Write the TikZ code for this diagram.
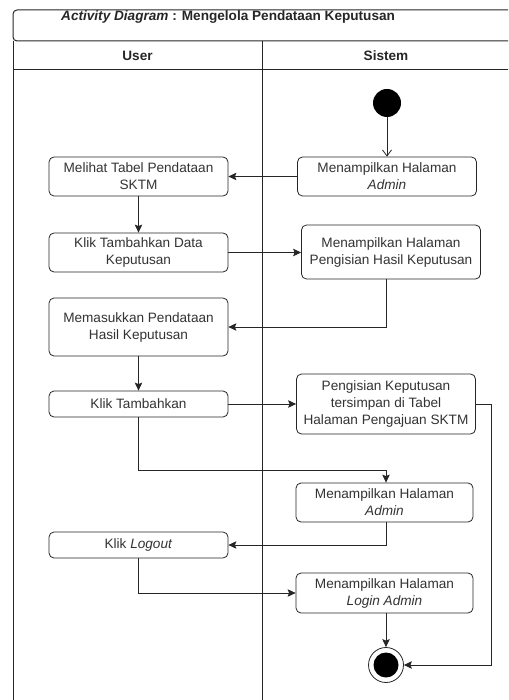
\documentclass[tikz,border=0pt]{standalone}
\usepackage{fontspec}
\setmainfont{Liberation Sans}
\usetikzlibrary{arrows.meta,calc}
\begin{document}
\begin{tikzpicture}[x=1pt,y=-1pt,
  act/.style={draw=black!85,line width=0.8pt,rounded corners=5pt,fill=white,align=center,inner sep=0pt,font=\fontsize{13.6}{17}\selectfont,text=black!80,minimum width=179pt},
  flow/.style={draw=black!85,line width=0.8pt,-{Stealth[length=8pt,width=7.5pt,inset=1.5pt]}},
  openflow/.style={draw=black!85,line width=0.8pt,-{Straight Barb[length=6pt,width=9pt]}},
  frame/.style={draw=black!85,line width=1pt},
  lanehead/.style={font=\bfseries\fontsize{13.6}{16}\selectfont,text=black!85,inner sep=0pt},
  ]
\useasboundingbox (0,0) rectangle (508,700);
\begin{scope}
\clip (0,0) rectangle (508,700);
\draw[frame,rounded corners=4pt] (13,41) rectangle (530,10);
\draw[frame] (13,41) -- (13,720);
\draw[frame] (262,41) -- (262,720);
\draw[frame] (530,41) -- (530,720);
\draw[frame] (13,70) -- (530,70);
\end{scope}
\node[lanehead,anchor=west] (title) at (61,17.5) {\textit{Activity Diagram} : Mengelola Pendataan Keputusan};
\node[lanehead] (huser) at (137.5,55.5) {User};
\node[lanehead] (hsis) at (386,55.5) {Sistem};

\node[circle,fill=black,minimum size=28pt,inner sep=0pt] (start) at (387,103) {};

\node[act,minimum height=39pt] (s1) at (387,176.5) {Menampilkan Halaman\\\textit{Admin}};
\node[act,minimum height=39pt] (u1) at (138.5,176.5) {Melihat Tabel Pendataan\\SKTM};
\node[act,minimum height=39pt] (u2) at (138.5,252.5) {Klik Tambahkan Data\\Keputusan};
\node[act,minimum height=54pt] (s2) at (391,252) {Menampilkan Halaman\\Pengisian Hasil Keputusan};
\node[act,minimum height=58pt] (u3) at (138.5,327) {Memasukkan Pendataan\\Hasil Keputusan};
\node[act,minimum height=26pt] (u4) at (138.5,404) {Klik Tambahkan};
\node[act,minimum height=60pt] (s3) at (386,404) {Pengisian Keputusan\\tersimpan di Tabel\\Halaman Pengajuan SKTM};
\node[act,minimum height=39pt,minimum width=177pt] (s4) at (384.5,502.5) {Menampilkan Halaman\\\textit{Admin}};
\node[act,minimum height=26pt] (u5) at (138.5,545) {Klik \textit{Logout}};
\node[act,minimum height=40pt,minimum width=177pt] (s5) at (384.5,593) {Menampilkan Halaman\\\textit{Login Admin}};

\node[circle,draw=black!85,line width=0.8pt,minimum size=35pt,inner sep=0pt] (end) at (386,665) {};
\fill[black] (end.center) circle (12.5pt);

\coordinate (bend) at (491,665);

\draw[openflow] (start.south) -- (start.south |- s1.north);
\draw[flow] (s1.west) -- (u1.east);
\draw[flow] (u1.south) -- (u2.north);
\draw[flow] (u2.east) -- (u2.east -| s2.west);
\draw[flow] (s2.south -| end) |- (u3.east);
\draw[flow] (u3.south) -- (u4.north);
\draw[flow] (u4.east) -- (u4.east -| s3.west);
\draw[flow] (u4.south) -- ++(0,53) -| (s4.north -| end);
\draw[flow] (s3.east) -| (bend) -- (end.east);
\draw[flow] (s4.south -| end) |- (u5.east);
\draw[flow] (u5.south) |- (s5.west);
\draw[flow] (s5.south -| end) -- (end.north);
\end{tikzpicture}
\end{document}
